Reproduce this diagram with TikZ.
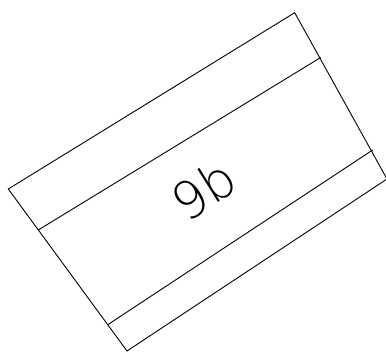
\documentclass[tikz,border=0pt]{standalone}
\usepackage{fontspec}
\newfontfamily\thinfont{DejaVu Sans ExtraLight}
\begin{document}
\begin{tikzpicture}[x=1pt,y=-1pt,line width=0.9pt]
\useasboundingbox (0,0) rectangle (386,352);
\coordinate (top) at (294.7,12.7);
\coordinate (left) at (8.3,189);
\coordinate (bot) at (127,351);
\coordinate (right) at (387,179);
\coordinate (l1) at (38.3,230);
\coordinate (r1) at (320.7,57.5);
\coordinate (l2) at (107.3,325);
\coordinate (r2) at (372.7,150);
\draw (left)--(top)--(right)--(bot)--cycle;
\draw (l1)--(r1);
\draw (l2)--(r2);
\node[anchor=base,rotate=32,inner sep=0pt,font=\thinfont\fontsize{51}{51}\selectfont] (label) at (213.8,205.9) {9b};
\end{tikzpicture}
\end{document}
